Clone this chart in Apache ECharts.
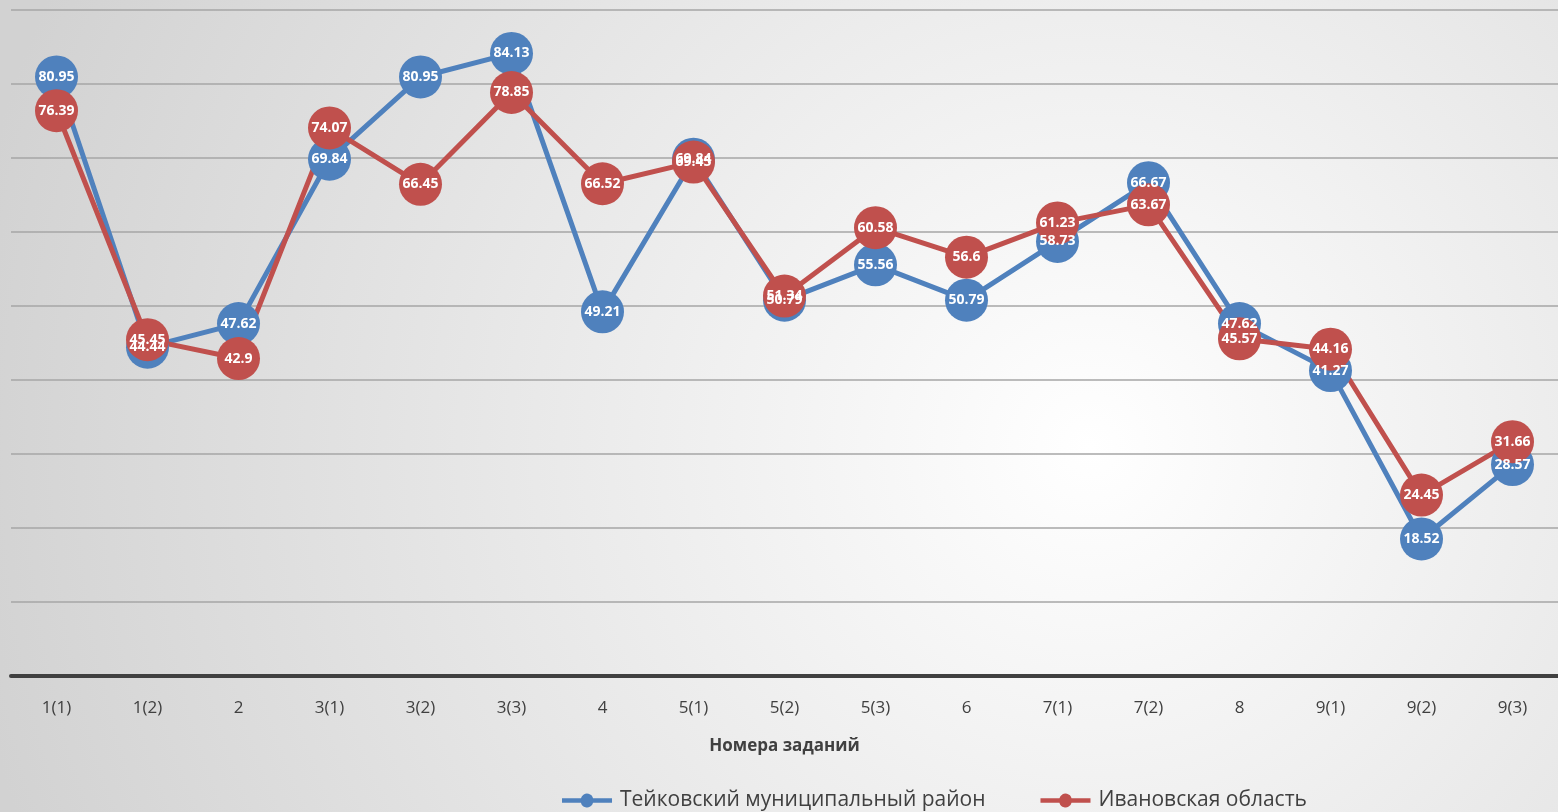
<!DOCTYPE html>
<html><head><meta charset="utf-8">
<script src="https://cdn.jsdelivr.net/npm/echarts@6/dist/echarts.min.js"></script>
<style>html,body{margin:0;padding:0;}#c{width:1558px;height:812px;}</style>
</head><body><div id="c"></div>
<script>
const categories = ['1(1)','1(2)','2','3(1)','3(2)','3(3)','4','5(1)','5(2)','5(3)','6','7(1)','7(2)','8','9(1)','9(2)','9(3)'];
const teikovo = [80.95,44.44,47.62,69.84,80.95,84.13,49.21,69.84,50.79,55.56,50.79,58.73,66.67,47.62,41.27,18.52,28.57];
const ivanovo = [76.39,45.45,42.9,74.07,66.45,78.85,66.52,69.45,51.34,60.58,56.6,61.23,63.67,45.57,44.16,24.45,31.66];
const seriesNames = ['Тейковский муниципальный район','Ивановская область'];
const colors = ['#4f81bd','#c0504d'];

const chart = echarts.init(document.getElementById('c'));
function mk(name, data, color) {
  return {
    name, type: 'line', data,
    symbol: 'circle', symbolSize: 43,
    lineStyle: {width: 5, color},
    itemStyle: {color},
    label: {show: true, position: 'inside', color: '#fff', fontWeight: 'bold', fontSize: 14, fontFamily: 'Open Sans'},
    emphasis: {disabled: true},
    animation: false
  };
}
chart.setOption({
  backgroundColor: {type: 'radial', x: 0.7, y: 0.55, r: 1.4, colorStops: [{offset: 0, color: '#ffffff'}, {offset: 1, color: '#d2d2d2'}]},
  grid: {left: 11, right: -8, top: 10, bottom: 136, containLabel: false},
  legend: {
    bottom: -4, left: 557, itemWidth: 56, itemHeight: 14, itemGap: 55,
    textStyle: {fontSize: 21, color: '#404040', fontFamily: 'Open Sans'},
    data: seriesNames.map((n,i)=>({name: n, icon: 'path://M0,4.5 L21.2,4.5 A7,7 0 0 1 34.8,4.5 L56,4.5 L56,9.5 L34.8,9.5 A7,7 0 0 1 21.2,9.5 L0,9.5 Z', itemStyle: {color: colors[i]}}))
  },
  xAxis: {
    type: 'category', data: categories, boundaryGap: true,
    axisLine: {lineStyle: {color: '#404040', width: 4}},
    axisTick: {show: false},
    axisLabel: {fontSize: 17, color: '#404040', margin: 24, fontFamily: 'Open Sans'},
    name: 'Номера заданий', nameLocation: 'middle', nameGap: 62,
    nameTextStyle: {fontSize: 17, fontWeight: 'bold', color: '#404040', fontFamily: 'Open Sans'}
  },
  yAxis: {
    type: 'value', min: 0, max: 90, interval: 10,
    axisLabel: {show: false}, axisLine: {show: false}, axisTick: {show: false},
    splitLine: {lineStyle: {color: '#a6a6a6', width: 1.5}}
  },
  series: [mk(seriesNames[0], teikovo, colors[0]), mk(seriesNames[1], ivanovo, colors[1])]
});
</script></body></html>
